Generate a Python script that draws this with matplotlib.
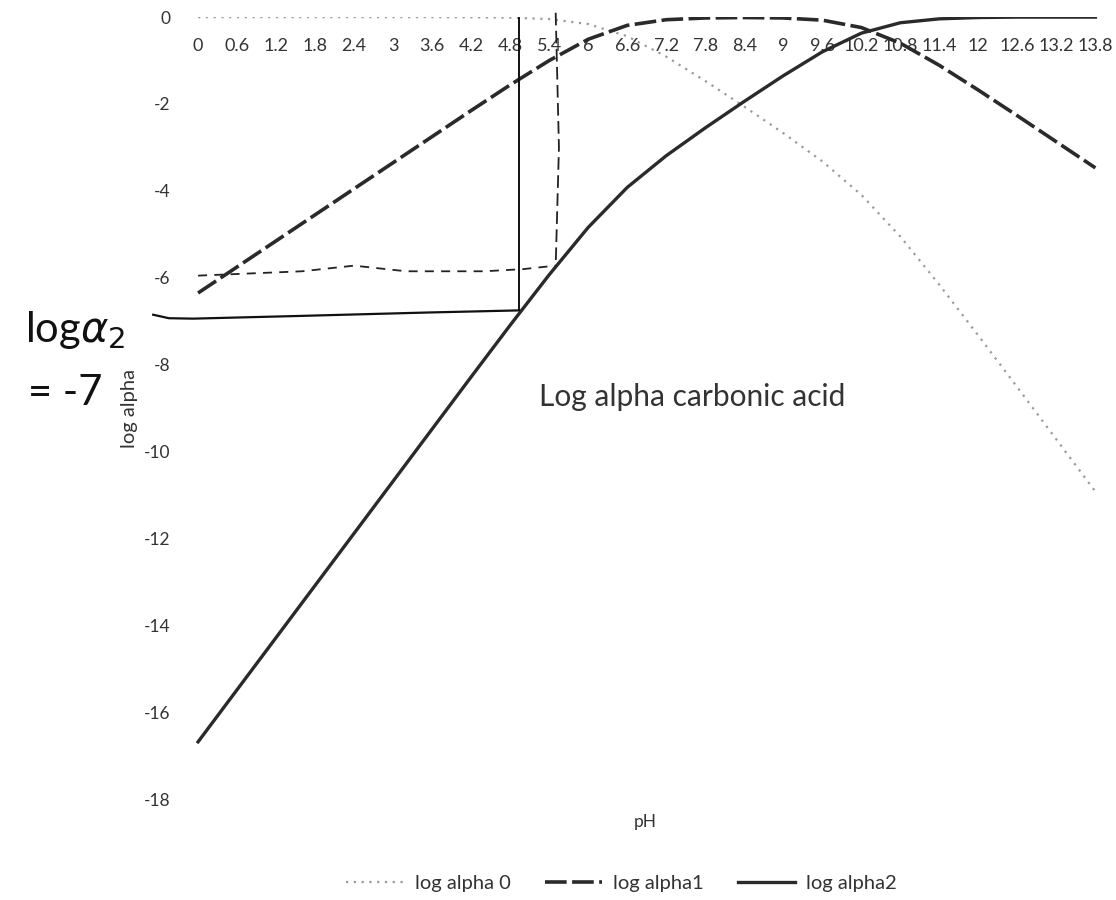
import matplotlib
matplotlib.use("Agg")
import matplotlib.pyplot as plt
import numpy as np

plt.rcParams["axes.unicode_minus"] = False
plt.rcParams["font.family"] = ["Lato", "DejaVu Sans"]

ph_labels = ["0", "0.6", "1.2", "1.8", "2.4", "3", "3.6", "4.2", "4.8", "5.4",
             "6", "6.6", "7.2", "7.8", "8.4", "9", "9.6", "10.2", "10.8",
             "11.4", "12", "12.6", "13.2", "13.8"]

log_alpha0 = [0.00, 0.00, 0.00, 0.00, 0.00, 0.00, 0.00, -0.003, -0.012, -0.046,
              -0.16, -0.44, -0.91, -1.47, -2.06, -2.67, -3.32, -4.09, -5.05,
              -6.16, -7.33, -8.52, -9.72, -10.92]
log_alpha1 = [-6.35, -5.75, -5.15, -4.55, -3.95, -3.35, -2.75, -2.15, -1.56, -1.00,
              -0.51, -0.19, -0.06, -0.02, -0.01, -0.02, -0.07, -0.24, -0.60,
              -1.11, -1.68, -2.27, -2.87, -3.47]
log_alpha2 = [-16.68, -15.48, -14.28, -13.08, -11.88, -10.68, -9.48, -8.28, -7.09,
              -5.93, -4.84, -3.92, -3.19, -2.55, -1.94, -1.35, -0.80, -0.37,
              -0.13, -0.04, -0.01, 0.00, 0.00, 0.00]

# hand-drawn guide lines (pH, log alpha)
hand_solid_h_ph = [-0.69, -0.45, -0.08, 1.5, 3.5, 4.94]
hand_solid_h_y = [-6.85, -6.93, -6.94, -6.88, -6.80, -6.75]
hand_solid_v_ph = [4.94, 4.94]
hand_solid_v_y = [0.0, -6.75]
hand_dash_h_ph = [0.0, 0.8, 1.6, 2.4, 3.2, 4.4, 5.0, 5.5]
hand_dash_h_y = [-5.95, -5.9, -5.85, -5.72, -5.85, -5.85, -5.8, -5.72]
hand_dash_v_ph = [5.5, 5.55, 5.5]
hand_dash_v_y = [0.1, -3.0, -5.72]

STEP = 0.6


def idx(ph):
    return np.asarray(ph) / STEP


def main() -> None:
    fig = plt.figure(figsize=(11.16, 9), dpi=100)
    ax = fig.add_axes([0.160, 0.112, 0.839, 0.869])
    x = np.arange(len(ph_labels))

    ax.plot(x, log_alpha0, color="#9a9a9a", lw=1.6, ls=(0, (1, 2.5)), label="log alpha 0")
    ax.plot(x, log_alpha1, color="#2a2a2a", lw=2.6, ls=(0, (6, 1.5)), label="log alpha1")
    ax.plot(x, log_alpha2, color="#2a2a2a", lw=2.4, label="log alpha2")

    ax.plot(idx(hand_solid_h_ph), hand_solid_h_y, color="#111111", lw=1.6, clip_on=False)
    ax.plot(idx(hand_solid_v_ph), hand_solid_v_y, color="#111111", lw=1.4)
    ax.plot(idx(hand_dash_h_ph), hand_dash_h_y, color="#222222", lw=1.3, ls=(0, (5, 4)))
    ax.plot(idx(hand_dash_v_ph), hand_dash_v_y, color="#222222", lw=1.3, ls=(0, (7, 3)), clip_on=False)

    ax.set_xlim(-0.5, len(ph_labels) - 0.5)
    ax.set_ylim(-18, 0)
    ax.set_yticks(np.arange(-18, 1, 2))
    ax.set_yticklabels([str(v) for v in np.arange(-18, 1, 2)])
    ax.set_xticks(x)
    ax.set_xticklabels(ph_labels)
    ax.spines["bottom"].set_position(("data", 0))
    for s in ax.spines.values():
        s.set_visible(False)
    ax.tick_params(axis="x", length=0, pad=15, labelsize=13, colors="#333333")
    ax.tick_params(axis="y", length=0, pad=6, labelsize=12.5, colors="#333333")

    ax.set_ylabel("log alpha", fontsize=14.5, color="#333333", labelpad=4)
    fig.text(0.578, 0.087, "pH", fontsize=12.5, color="#333333", ha="center", va="center")
    ax.text(idx(7.6), -8.75, "Log alpha carbonic acid", fontsize=21.5, color="#333333",
            ha="center", va="center")

    fig.text(0.067, 0.633, "log$\\alpha_2$", fontsize=30, color="#111111", ha="center", va="center")
    fig.text(0.058, 0.563, "= -7", fontsize=30, color="#111111", ha="center", va="center")

    fig.legend(*ax.get_legend_handles_labels(), loc="center", bbox_to_anchor=(0.557, 0.018),
               ncol=3, frameon=False, fontsize=14.5, handlelength=2.85, handletextpad=0.55,
               columnspacing=1.7, labelcolor="#333333")

    fig.savefig("out.png", dpi=100)
    plt.close(fig)


if __name__ == "__main__":
    main()
